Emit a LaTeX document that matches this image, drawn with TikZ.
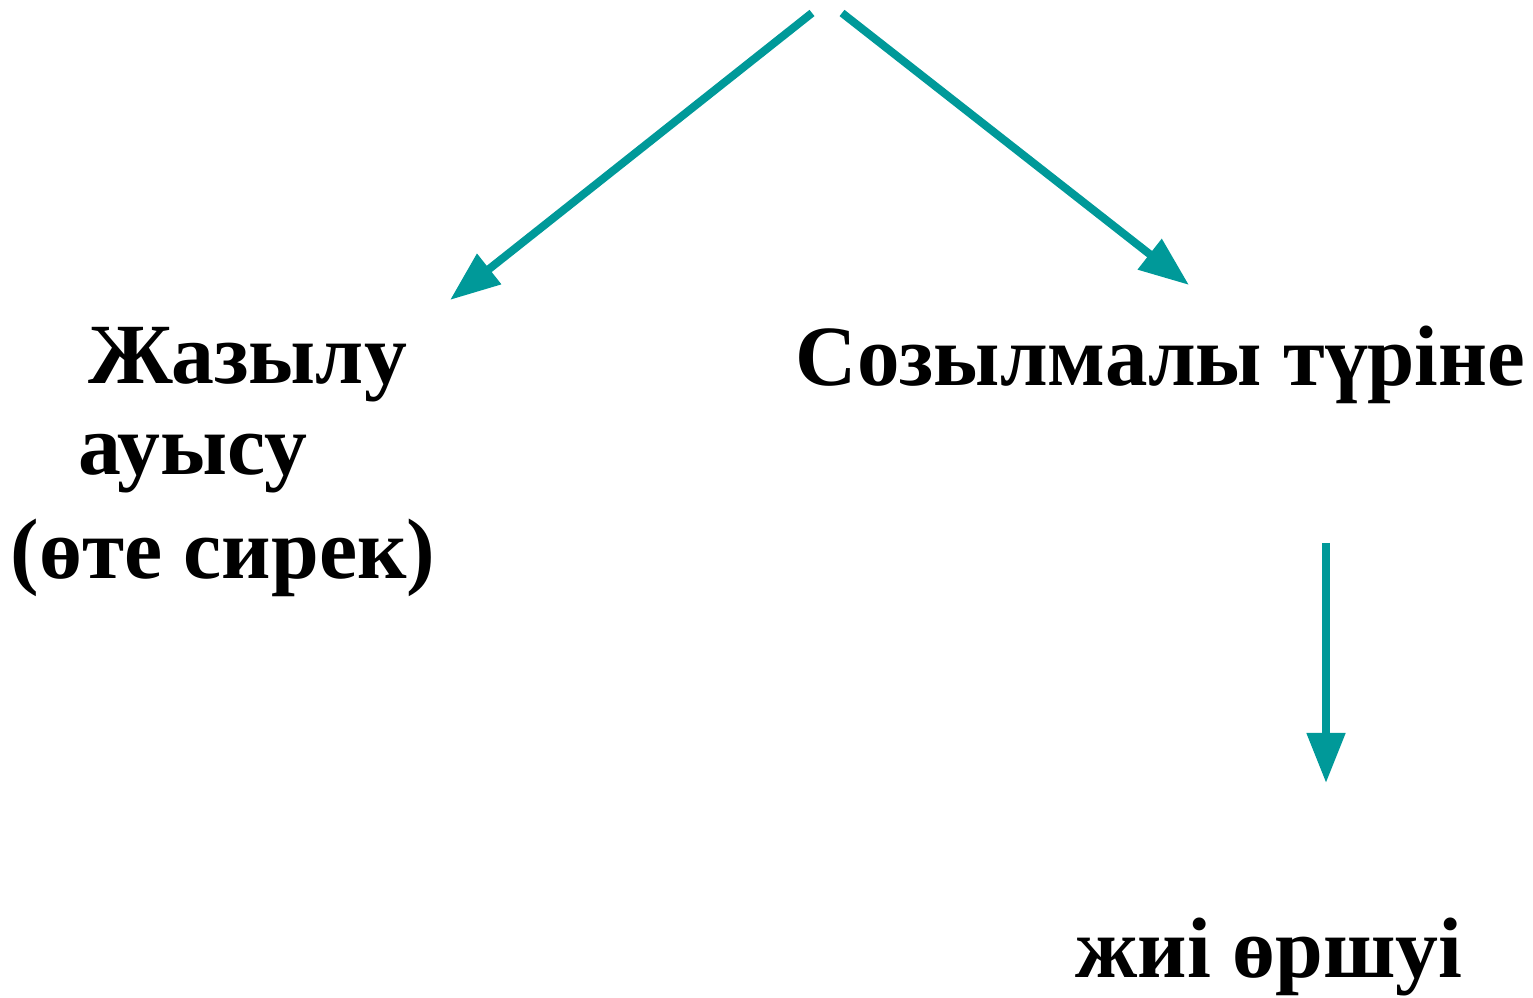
\documentclass[tikz,border=0pt]{standalone}
\usepackage{fontspec}
\setmainfont{Liberation Serif}
\newfontfamily\narrowserif{Liberation Serif}[FakeStretch=0.99]
\usetikzlibrary{arrows.meta}
\definecolor{arrteal}{RGB}{0,153,153}

\begin{document}
\begin{tikzpicture}[x=0.01cm, y=-0.01cm,
  arr/.style={draw=arrteal, line width=0.08cm, -{Triangle[length=0.5cm, width=0.37cm]}},
  lbl/.style={inner sep=0pt, anchor=base west, font=\bfseries\fontsize{24.4pt}{25.9pt}\selectfont},
]
  \useasboundingbox (0,0) rectangle (1533,998);
  \coordinate (L) at (812,13);
  \coordinate (R) at (842,13);
  \coordinate (Lt) at (450,300);
  \coordinate (Rt) at (1189,285);
  \coordinate (D) at (1326,543);
  \coordinate (Dt) at (1326,783);
  \draw[arr] (L) -- (Lt);
  \draw[arr] (R) -- (Rt);
  \draw[arr] (D) -- (Dt);
  \node[lbl, align=left] (jaz) at (10,579) {\hspace*{0.78cm}Жазылу\\\hspace*{0.68cm}ауысу\\[0.13cm](өте сирек)};
  \node[lbl] (soz) at (795,386) {\narrowserif Созылмалы түріне};
  \node[lbl] (jii) at (1075,978) {жиі өршуі};
\end{tikzpicture}
\end{document}
